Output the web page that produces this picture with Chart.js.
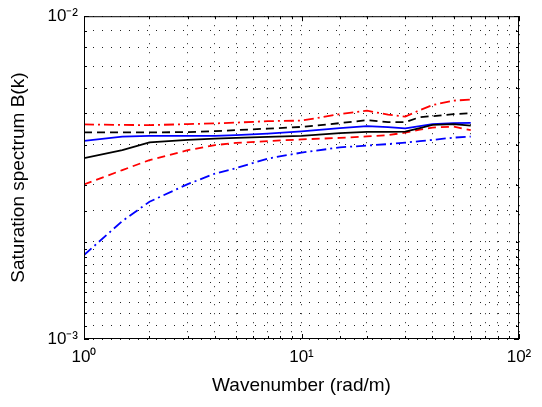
<!DOCTYPE html>
<html>
<head>
<meta charset="utf-8">
<script src="https://cdn.jsdelivr.net/npm/chart.js@4"></script>
<style>
  html, body { margin: 0; padding: 0; background: #fff; }
</style>
</head>
<body>
<canvas id="specChart" width="542" height="407"></canvas>
<script>
// wavenumber samples (rad/m), shared by every curve
const wavenumbers = [1, 1.5, 2, 3, 4, 5, 7, 10, 15, 20, 25, 30, 35, 40, 50, 60];

// saturation spectrum B(k)
const blackSolid  = [0.003634, 0.003846, 0.004065, 0.00414, 0.004176, 0.004197, 0.004227, 0.00426, 0.004343, 0.004381, 0.004383, 0.004389, 0.0045, 0.004605, 0.004631, 0.004581];
const blueSolid   = [0.004111, 0.004236, 0.00426, 0.00426, 0.00426, 0.004281, 0.004327, 0.004398, 0.0045, 0.004564, 0.004532, 0.00449, 0.004564, 0.004631, 0.004664, 0.004675];
const blackDashed = [0.004365, 0.004365, 0.004365, 0.004375, 0.004405, 0.004437, 0.004484, 0.004539, 0.004664, 0.004764, 0.004697, 0.004697, 0.004867, 0.004902, 0.004973, 0.005008];
const redDashDot  = [0.004622, 0.004605, 0.004598, 0.004631, 0.004655, 0.004681, 0.004731, 0.004748, 0.004973, 0.005098, 0.004955, 0.004885, 0.005117, 0.005303, 0.005476, 0.005515];
const redDashed   = [0.003012, 0.003336, 0.003583, 0.003846, 0.003987, 0.00405, 0.004102, 0.004153, 0.004197, 0.004242, 0.004281, 0.004359, 0.004453, 0.004517, 0.004549, 0.004437];
const blueDashDot = [0.00182, 0.002319, 0.002662, 0.003019, 0.003254, 0.003383, 0.003622, 0.003779, 0.003923, 0.003973, 0.004016, 0.004059, 0.004102, 0.004137, 0.004206, 0.004236];

// labelled decades
const xDecades = [1, 10, 100];
const xTickLabels = ['10\u2070', '10\u00b9', '10\u00b2'];
const yDecades = [0.001, 0.01];
const yTickLabels = ['10\u207b\u00b3', '10\u207b\u00b2'];

const FONT = "'Liberation Sans', Arial, sans-serif";

function pts(values) {
  return wavenumbers.map((k, i) => ({ x: k, y: values[i] }));
}

function decadeLabel(value, decades, labels) {
  const i = decades.findIndex(d => Math.abs(value / d - 1) < 1e-6);
  return i >= 0 ? labels[i] : '';
}

function line(values, color, dash) {
  return {
    data: pts(values),
    borderColor: color,
    borderWidth: 1.8,
    borderDash: dash,
    pointRadius: 0,
    fill: false,
    tension: 0
  };
}

// box around the axes plus inward tick marks, like the original
const framePlugin = {
  id: 'frame',
  afterDatasetsDraw(chart) {
    const { ctx, chartArea: a, scales } = chart;
    ctx.save();
    ctx.strokeStyle = '#000';
    ctx.lineWidth = 1;
    ctx.beginPath();
    scales.x.ticks.forEach(t => {
      const px = Math.round(scales.x.getPixelForValue(t.value)) + 0.5;
      const len = xDecades.includes(t.value) ? 5 : 3;
      ctx.moveTo(px, a.bottom); ctx.lineTo(px, a.bottom - len);
      ctx.moveTo(px, a.top); ctx.lineTo(px, a.top + len);
    });
    scales.y.ticks.forEach(t => {
      const py = Math.round(scales.y.getPixelForValue(t.value)) + 0.5;
      const len = decadeLabel(t.value, yDecades, yTickLabels) ? 5 : 3;
      ctx.moveTo(a.left, py); ctx.lineTo(a.left + len, py);
      ctx.moveTo(a.right, py); ctx.lineTo(a.right - len, py);
    });
    ctx.stroke();
    ctx.strokeRect(a.left + 0.5, a.top + 0.5, a.right - a.left - 1, a.bottom - a.top - 1);
    ctx.restore();
  }
};

const ctx = document.getElementById('specChart').getContext('2d');
const chart = new Chart(ctx, {
  type: 'line',
  data: {
    datasets: [
      line(blackSolid, '#000000', []),
      line(blueSolid, '#0000ff', []),
      line(blackDashed, '#000000', [8, 5]),
      line(redDashDot, '#ff0000', [10, 4, 2, 4]),
      line(redDashed, '#ff0000', [8, 5]),
      line(blueDashDot, '#0000ff', [10, 4, 2, 4])
    ]
  },
  options: {
    responsive: false,
    animation: false,
    layout: { padding: { top: 16, right: 23, left: 0, bottom: 0 } },
    plugins: {
      legend: { display: false },
      tooltip: { enabled: false }
    },
    scales: {
      x: {
        type: 'logarithmic',
        min: 1,
        max: 100,
        afterFit: s => { s.height = 68; },
        grid: { color: '#222', lineWidth: 1, drawTicks: false },
        border: { display: false, dash: [1, 8] },
        ticks: {
          autoSkip: false,
          maxRotation: 0,
          padding: 8,
          color: '#000',
          font: { family: FONT, size: 17 },
          callback: v => decadeLabel(v, xDecades, xTickLabels)
        },
        title: {
          display: true,
          text: 'Wavenumber (rad/m)',
          color: '#000',
          font: { family: FONT, size: 19 },
          padding: { top: 0, bottom: 10 }
        }
      },
      y: {
        type: 'logarithmic',
        min: 0.001,
        max: 0.01,
        afterFit: s => { s.width = 84; },
        grid: { color: '#222', lineWidth: 1, drawTicks: false },
        border: { display: false, dash: [1, 8] },
        ticks: {
          autoSkip: false,
          padding: 6,
          color: '#000',
          font: { family: FONT, size: 17 },
          callback: v => decadeLabel(v, yDecades, yTickLabels)
        },
        title: {
          display: true,
          text: 'Saturation spectrum B(k)',
          color: '#000',
          font: { family: FONT, size: 19 },
          padding: { top: 7, bottom: 0 }
        }
      }
    }
  },
  plugins: [framePlugin]
});
</script>
</body>
</html>
